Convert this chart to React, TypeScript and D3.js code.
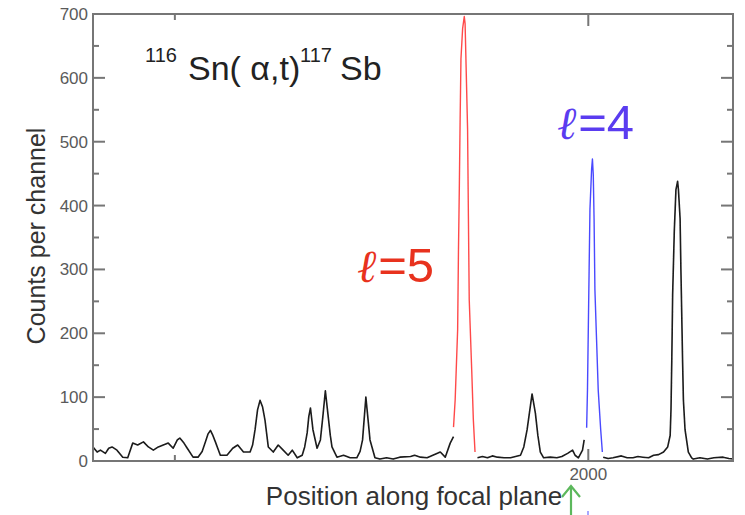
import React from "react";
import * as d3 from "d3";

// ---- data (position along focal plane, counts per channel) ----
const blackPos1 = [1401,1406,1410,1416,1420,1424,1430,1437,1443,1449,1455,1462,1468,1474,1480,1486,1492,1498,1503,1506,1511,1515,1522,1528,1533,1537,1540,1543,1546,1549,1555,1563,1570,1576,1583,1591,1594,1597,1600,1603,1606,1609,1613,1619,1625,1631,1637,1642,1648,1654,1657,1660,1662,1664,1667,1672,1676,1679,1682,1685,1688,1690,1696,1704,1712,1720,1724,1727,1731,1734,1736,1742,1748,1756,1764,1772,1785,1790,1797,1805,1812,1821,1827,1833,1837];
const blackCnt1 = [22,14,17,12,20,22,17,6,5,28,25,30,22,17,22,25,28,20,33,36,28,20,6,6,15,30,42,48,40,30,9,9,20,25,14,14,25,49,80,95,85,64,22,14,25,17,9,17,5,9,22,44,70,83,49,20,33,70,110,75,40,22,6,9,5,5,15,33,100,60,33,5,3,5,3,6,7,9,6,5,9,14,6,28,38];

const redPos = [1837,1839,1842,1843,1844,1845,1846,1848,1850,1851,1852,1854,1855,1856,1859,1861,1863];
const redCnt = [53,96,206,331,425,535,630,677,696,685,630,520,383,253,143,64,14];

const blackPos2 = [1866,1872,1878,1884,1890,1898,1906,1912,1918,1922,1926,1932,1936,1939,1942,1946,1954,1962,1968,1975,1981,1984,1988,1993,1995];
const blackCnt2 = [5,7,5,8,6,5,5,7,9,22,49,105,75,40,14,5,6,5,7,12,17,9,5,17,33];

const bluePos = [1998,1999,2000,2001,2002,2004,2005,2006,2007,2008,2010,2012,2015,2017];
const blueCnt = [52,111,206,300,394,457,473,449,378,268,190,111,49,14];

const blackPos3 = [2018,2024,2030,2040,2047,2054,2060,2066,2073,2079,2085,2091,2096,2099,2100,2101,2102,2104,2106,2108,2109,2111,2112,2113,2114,2115,2117,2121,2125,2127,2135,2144,2152,2163,2170,2175];
const blackCnt3 = [6,4,5,8,5,5,7,6,5,9,10,14,22,40,80,160,260,360,425,438,425,380,300,230,159,96,49,14,5,3,5,3,5,6,4,3];

const yMajorTicks = [0,100,200,300,400,500,600,700];
const yMinorTicks = [50,150,250,350,450,550,650];
const xMajorTicks = [2000];
const xMinorTicks = [1500];

const W = 745, H = 515;
const L = 93, R = 733, T = 14, B = 461;
const FONT = "'Liberation Sans', Arial, Helvetica, sans-serif";
const ELL = "'DejaVu Serif', serif";

export default function App() {
  const x = d3.scaleLinear().domain([1401, 2175]).range([L, R]);
  const y = d3.scaleLinear().domain([0, 700]).range([B, T]);
  const line = d3.line<[number, number]>().x(d => x(d[0])).y(d => y(d[1]));
  const zip = (a: number[], b: number[]) => a.map((v, i) => [v, b[i]] as [number, number]);
  const axisCol = "#767676";

  return (
    <svg width={W} height={H} style={{ position: "absolute", left: 0, top: 0, background: "#fff" }}>
      <defs>
        <filter id="soft" x="-5%" y="-5%" width="110%" height="110%">
          <feGaussianBlur stdDeviation="0.5" />
        </filter>
      </defs>
      {/* data */}
      <g fill="none" strokeLinejoin="round" filter="url(#soft)">
        <path d={line(zip(blackPos1, blackCnt1)) || ""} stroke="#1a1a1a" strokeWidth={1.6} />
        <path d={line(zip(blackPos2, blackCnt2)) || ""} stroke="#1a1a1a" strokeWidth={1.6} />
        <path d={line(zip(blackPos3, blackCnt3)) || ""} stroke="#1a1a1a" strokeWidth={1.6} />
        <path d={line(zip(redPos, redCnt)) || ""} stroke="#ff4a4a" strokeWidth={1.4} />
        <path d={line(zip(bluePos, blueCnt)) || ""} stroke="#4a4aff" strokeWidth={1.4} />
      </g>
      {/* frame */}
      <g stroke={axisCol} strokeWidth={2} filter="url(#soft)">
        <rect x={L} y={T} width={R - L} height={B - T} fill="none" />
        {yMajorTicks.map(t => (
          <g key={"ym" + t}>
            <line x1={L} x2={L + 12} y1={y(t)} y2={y(t)} />
            <line x1={R} x2={R - 12} y1={y(t)} y2={y(t)} />
          </g>
        ))}
        {yMinorTicks.map(t => (
          <g key={"yn" + t}>
            <line x1={L} x2={L + 6} y1={y(t)} y2={y(t)} />
            <line x1={R} x2={R - 6} y1={y(t)} y2={y(t)} />
          </g>
        ))}
        {xMajorTicks.map(t => (
          <g key={"xm" + t}>
            <line x1={x(t)} x2={x(t)} y1={B} y2={B - 12} />
            <line x1={x(t)} x2={x(t)} y1={T} y2={T + 12} />
          </g>
        ))}
        {xMinorTicks.map(t => (
          <g key={"xn" + t}>
            <line x1={x(t)} x2={x(t)} y1={B} y2={B - 6} />
            <line x1={x(t)} x2={x(t)} y1={T} y2={T + 6} />
          </g>
        ))}
      </g>
      {/* tick labels */}
      <g fontFamily={FONT} fontSize={17} fill="#5a5a5a">
        {yMajorTicks.map(t => (
          <text key={"yl" + t} x={L - 5} y={y(t)} dy="0.35em" textAnchor="end">{t}</text>
        ))}
        {xMajorTicks.map(t => (
          <text key={"xl" + t} x={x(t)} y={480} textAnchor="middle">{t}</text>
        ))}
      </g>
      {/* axis titles */}
      <text x={414} y={505} textAnchor="middle" fontFamily={FONT} fontSize={26} fill="#333">Position along focal plane</text>
      <text transform="translate(45,236) rotate(-90)" textAnchor="middle" fontFamily={FONT} fontSize={25} fill="#333">Counts per channel</text>
      {/* reaction title */}
      <g fontFamily={FONT} fill="#222">
        <text x={145} y={62} fontSize={20}>116</text>
        <text x={188} y={80} fontSize={34}>Sn( α,t)</text>
        <text x={300} y={62} fontSize={20}>117</text>
        <text x={340} y={80} fontSize={34}>Sb</text>
      </g>
      {/* annotations */}
      <text x={357} y={282} fontFamily={FONT} fontSize={49} fill="#e8321e">
        <tspan fontFamily={ELL} fontStyle="italic" fontSize={46}>ℓ</tspan><tspan dx={2}>=5</tspan>
      </text>
      <text x={557} y={139} fontFamily={FONT} fontSize={49} fill="#5a3cf0">
        <tspan fontFamily={ELL} fontStyle="italic" fontSize={46}>ℓ</tspan><tspan dx={2}>=4</tspan>
      </text>
      <g stroke="#5cb85c" strokeWidth={2.2} fill="none">
        <line x1={571} x2={571} y1={486} y2={515} />
        <polyline points="562,497 571,486 580,497" />
      </g>
      <line x1={588} x2={588} y1={511} y2={515} stroke="#8a8aff" strokeWidth={1.5} />
    </svg>
  );
}
